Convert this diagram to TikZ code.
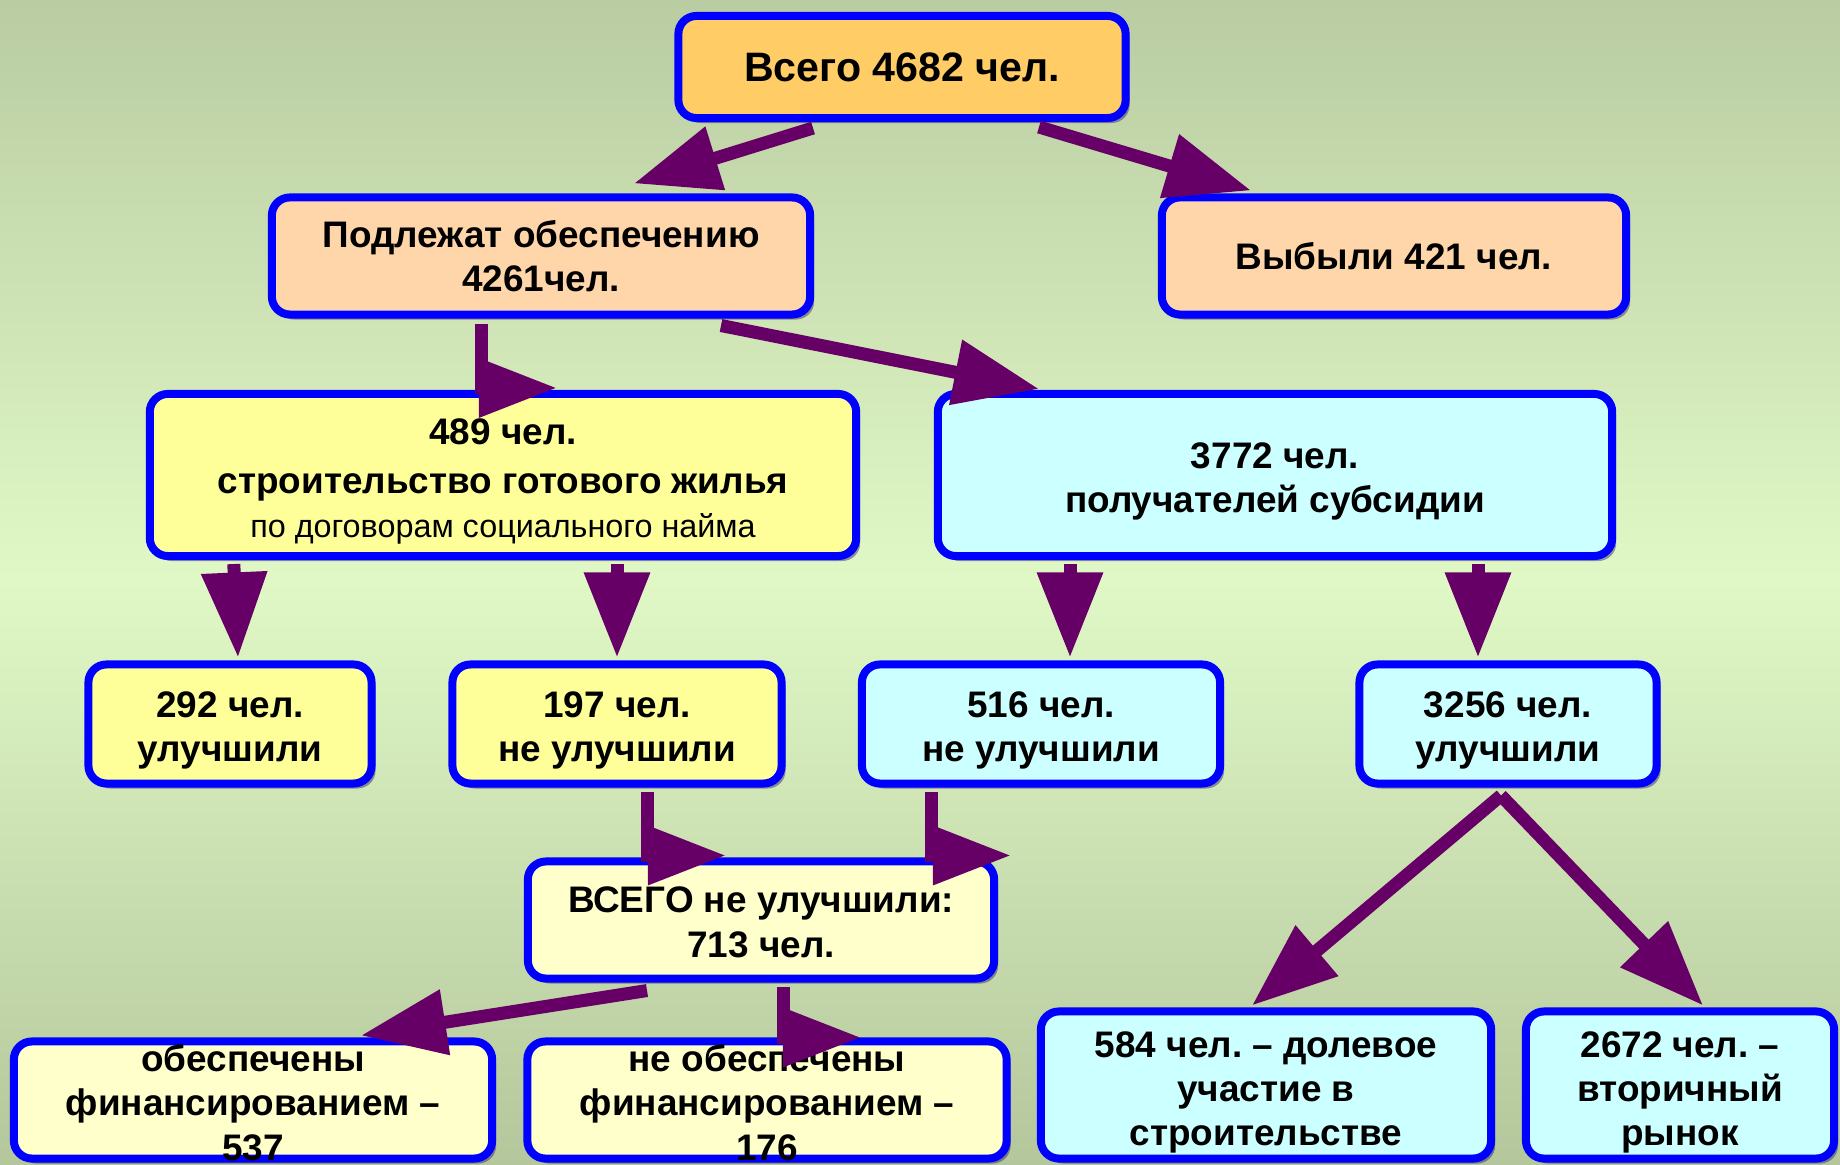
\documentclass[tikz,border=0pt]{standalone}
\usepackage{fontspec}
\setmainfont{Liberation Sans}
\usetikzlibrary{arrows.meta,calc,shadows}
\frenchspacing
\definecolor{bgtop}{HTML}{B9CCA2}
\definecolor{bgmid}{HTML}{E0F8C6}
\definecolor{bgbot}{HTML}{B4C79C}
\definecolor{orangebox}{HTML}{FFCC66}
\definecolor{peach}{HTML}{FFD6AA}
\definecolor{gelb}{HTML}{FFFF99}
\definecolor{hellgelb}{HTML}{FFFFCC}
\definecolor{cyanbox}{HTML}{CCFFFF}
\definecolor{lila}{HTML}{660066}
\definecolor{rand}{HTML}{0000FF}
\definecolor{schatten}{HTML}{2A1A6E}
\newcommand\hoch[1][10.9pt]{\rule{0pt}{#1}}
\def\pf#1#2{
	\draw[pfeil] #1 -- #2;
}
\def\pfr#1#2{
	\draw[pfeilr] #1 |- #2;
}

\begin{document}
\begin{tikzpicture}[x=0.01cm,y=-0.01cm,
	box/.style={draw=rand,line width=0.08cm,rounded corners=0.18cm,align=center,inner sep=0pt,
		font=\bfseries\fontsize{10.5}{12.6}\selectfont,
		drop shadow={shadow xshift=0.04cm,shadow yshift=-0.05cm,fill=schatten,opacity=0.45}},
	pfeil/.style={draw=lila,line width=0.13cm,-{Triangle[length=0.85cm,width=0.63cm]}},
	pfeilr/.style={draw=lila,line width=0.13cm,-{Triangle[length=0.78cm,width=0.56cm]}}]
\useasboundingbox (0,0) rectangle (1840,1165);
\shade[top color=bgtop,bottom color=bgmid] (0,0) rectangle (1840,580);
\shade[top color=bgmid,bottom color=bgbot] (0,580) rectangle (1840,1165);

\node[box,fill=orangebox,minimum width=4.47cm,minimum height=1.02cm,font=\bfseries\fontsize{11.7}{14}\selectfont] (top) at (902,67) {Всего 4682 чел.};
\node[box,fill=peach,minimum width=5.38cm,minimum height=1.17cm] (pod) at (541,256) {Подлежат обеспечению\\4261чел.};
\node[box,fill=peach,minimum width=4.64cm,minimum height=1.17cm] (vyb) at (1394,256) {Выбыли 421 чел.};
\node[box,fill=gelb,minimum width=7.06cm,minimum height=1.62cm] (n489) at (503,475) {\hoch 489 чел.\\[1.3pt]строительство готового жилья\\{\mdseries\fontsize{9.2}{11}\selectfont по договорам социального найма}};
\node[box,fill=cyanbox,minimum width=6.74cm,minimum height=1.62cm] (n3772) at (1275,475) {\hoch 3772 чел.\\получателей субсидии};
\node[box,fill=gelb,minimum width=2.83cm,minimum height=1.19cm] (n292) at (230,724) {\hoch 292 чел.\\улучшили};
\node[box,fill=gelb,minimum width=3.29cm,minimum height=1.19cm] (n197) at (617,724) {\hoch 197 чел.\\не улучшили};
\node[box,fill=cyanbox,minimum width=3.58cm,minimum height=1.19cm] (n516) at (1041,724) {\hoch 516 чел.\\не улучшили};
\node[box,fill=cyanbox,minimum width=2.97cm,minimum height=1.19cm] (n3256) at (1508,724) {\hoch 3256 чел.\\улучшили};
\node[box,fill=hellgelb,minimum width=4.66cm,minimum height=1.17cm] (vsego) at (761,920) {\hoch[8.6pt]ВСЕГО не улучшили:\\713 чел.};
\node[box,fill=hellgelb,minimum width=4.78cm,minimum height=1.17cm,inner ysep=-0.1cm] (obesp) at (253,1100) {\hoch[9.2pt]обеспечены\\финансированием –\\537};
\node[box,fill=hellgelb,minimum width=4.79cm,minimum height=1.17cm,inner ysep=-0.1cm] (neob) at (767,1100) {\hoch[9.2pt]не обеспечены\\финансированием –\\176};
\node[box,fill=cyanbox,minimum width=4.50cm,minimum height=1.47cm] (n584) at (1266,1085) {\hoch[11.5pt]584 чел. – долевое\\участие в\\строительстве};
\node[box,fill=cyanbox,minimum width=3.08cm,minimum height=1.47cm] (n2672) at (1680,1085) {\hoch[11.5pt]2672 чел. –\\вторичный\\рынок};

\pf{($(top.south)+(-89,6)$)}{($(pod.north)+(93,-10)$)}
\pf{($(top.south)+(137,5)$)}{($(vyb.north)+(-143,-3)$)}
\pf{($(pod.south)+(180,7)$)}{($(n3772.north)+(-236,-1)$)}
\pfr{($(pod.south)+(-60,5)$)}{($(n489.north)+(54,-2)$)}
\pf{($(n489.south west)+(88,4)$)}{($(n292.north)+(8,-3)$)}
\pf{($(n489.south)+(114,4)$)}{($(n197.north)+(0,-3)$)}
\pf{($(n3772.south)+(-205,4)$)}{($(n516.north)+(29,-3)$)}
\pf{($(n3772.south)+(203,4)$)}{($(n3256.north)+(-30,-3)$)}
\pfr{($(n197.south)+(30,4)$)}{($(vsego.north)+(-35,-2)$)}
\pfr{($(n516.south)+(-110,4)$)}{($(vsego.north)+(250,-2)$)}
\pf{($(vsego.south)+(-114,8)$)}{($(obesp.north)+(108,-2)$)}
\pfr{($(vsego.south)+(22,4)$)}{($(neob.north)+(94,0)$)}
\pf{($(n3256.south)+(-7,8)$)}{($(n584.north)+(-14,-2)$)}
\pf{($(n3256.south)+(-7,8)$)}{($(n2672.north)+(23,-2)$)}
\end{tikzpicture}
\end{document}
